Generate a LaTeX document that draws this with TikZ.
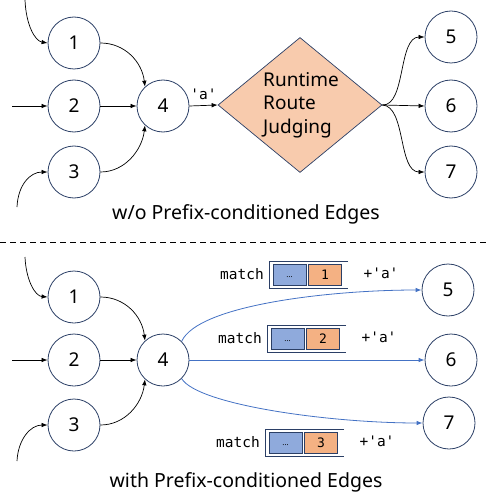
\documentclass[tikz,border=0pt]{standalone}
\usepackage{fontspec}
\setmainfont{Noto Sans}
\setmonofont{DejaVu Sans Mono}
\usetikzlibrary{arrows.meta,shapes.geometric}
\definecolor{navy}{HTML}{2B3F66}
\definecolor{peach}{HTML}{F8CBAD}
\definecolor{edgeblue}{HTML}{4472C4}
\definecolor{cellblue}{HTML}{8FAADC}
\definecolor{cellorange}{HTML}{F4B183}
\begin{document}
\begin{tikzpicture}[x=1pt,y=-1pt,
  st/.style={circle,draw=navy,line width=0.8pt,minimum size=52pt,inner sep=0pt,font=\fontsize{19}{22}\selectfont},
  arr/.style={-{Latex[length=6pt,width=4.5pt]},line width=0.7pt,black},
  barr/.style={-{Latex[length=6pt,width=4.5pt]},line width=0.8pt,edgeblue},
  mono/.style={font=\ttfamily\fontsize{14.5}{16}\selectfont,inner sep=0pt},
  captiontext/.style={font=\fontsize{19.5}{22}\selectfont,inner sep=0pt},
  frame/.style={draw=navy,line width=0.8pt},
  cellA/.style={draw=navy,line width=0.9pt,fill=cellblue,minimum width=33pt,minimum height=21pt,inner sep=0pt,anchor=north west},
  cellB/.style={draw=navy,line width=0.9pt,fill=cellorange,minimum width=33pt,minimum height=21pt,inner sep=0pt,anchor=north west,font=\ttfamily\fontsize{13}{15}\selectfont}
]
\useasboundingbox (0,0) rectangle (487,497);
% ---------- top half ----------
\node[st] (t1) at (74,43) {1};
\node[st] (t2) at (74,106) {2};
\node[st] (t3) at (74,172) {3};
\node[st] (t4) at (163,106) {4};
\node[diamond,draw=navy,line width=0.7pt,fill=peach,minimum width=164pt,minimum height=135pt,inner sep=0pt] (dia) at (300,105) {};
\node[align=left,font=\fontsize{19}{23.5}\selectfont,inner sep=0pt] (dtext) at (301,105) {Runtime\\Route\\Judging};
\node[st] (t5) at (451,37) {5};
\node[st] (t6) at (451,106) {6};
\node[st] (t7) at (451,172) {7};
\coordinate (ti1) at (25,0);
\coordinate (ti2) at (12,106);
\coordinate (ti3) at (17,207);
\draw[arr] (ti1) .. controls (26,25) and (35,41) .. (t1.west);
\draw[arr] (ti2) -- (t2.west);
\draw[arr] (ti3) .. controls (18,185) and (30,172) .. (t3.west);
\draw[arr] (t1.east) .. controls (125,43) and (142,62) .. (t4.133);
\draw[arr] (t2.east) -- (t4.west);
\draw[arr] (t3.east) .. controls (125,172) and (142,150) .. (t4.227);
\draw[arr] (t4.east) -- node[mono,above=5pt] {'a'} (dia.west);
\draw[arr] (dia.east) .. controls (406,106) and (398,37) .. (t5.west);
\draw[arr] (dia.east) -- (t6.west);
\draw[arr] (dia.east) .. controls (406,106) and (398,172) .. (t7.west);
\node[captiontext] (cap1) at (246,214) {w/o Prefix-conditioned Edges};
% separator
\coordinate (sepL) at (0,242);
\coordinate (sepR) at (487,242);
\draw[line width=0.8pt,dash pattern=on 6pt off 4pt] (sepL) -- (sepR);
% ---------- bottom half ----------
\node[st] (b1) at (74,297) {1};
\node[st] (b2) at (74,360) {2};
\node[st] (b3) at (74,425) {3};
\node[st] (b4) at (163,360) {4};
\node[st] (b5) at (448,290) {5};
\node[st] (b6) at (451,360) {6};
\node[st] (b7) at (449,423) {7};
\coordinate (bi1) at (25,257);
\coordinate (bi2) at (12,360);
\coordinate (bi3) at (17,461);
\draw[arr] (bi1) .. controls (26,280) and (35,296) .. (b1.west);
\draw[arr] (bi2) -- (b2.west);
\draw[arr] (bi3) .. controls (18,440) and (30,425) .. (b3.west);
\draw[arr] (b1.east) .. controls (125,297) and (142,316) .. (b4.133);
\draw[arr] (b2.east) -- (b4.west);
\draw[arr] (b3.east) .. controls (125,425) and (142,404) .. (b4.227);
\draw[barr] (b4.45) .. controls (198,305) and (330,290) .. (b5.west);
\draw[barr] (b4.east) -- (b6.west);
\draw[barr] (b4.-45) .. controls (198,405) and (330,423) .. (b7.west);
\foreach \x/\y/\n/\nm in {269/261/1/mA, 267/325/2/mB, 265/429/3/mC} {
  \draw[frame] (\x+79,\y) -- (\x,\y) -- (\x,\y+27) -- (\x+79,\y+27);
  \node[cellA] (\nm-l) at (\x+3.5,\y+3) {\raisebox{-5pt}{\fontsize{8}{8}\selectfont …}};
  \node[cellB] (\nm-r) at (\x+39,\y+3) {\n};
  \node[mono,anchor=east] (\nm-t) at (\x-5,\y+13.5) {match};
  \node[mono] (\nm-a) at (\x+112,\y+12.5) {+'a'};
}
\node[captiontext] (cap2) at (246,482) {with Prefix-conditioned Edges};
\end{tikzpicture}
\end{document}
